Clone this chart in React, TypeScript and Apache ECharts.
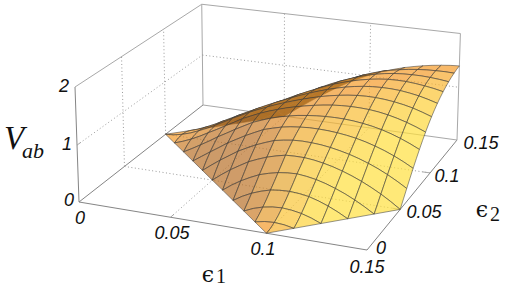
import React, { useEffect, useRef } from "react";
import * as echarts from "echarts";

const e1Ticks = [0, 0.05, 0.1, 0.15];
const e2Ticks = [0, 0.05, 0.1, 0.15];
const zTicks = [0, 1, 2];
const e1Labels = ["0", "0.05", "0.1", "0.15"];
const e2Labels = ["0", "0.05", "0.1", "0.15"];
const zLabels = ["0", "1", "2"];
const gridStep = 0.01;

const _ = null;
// V_ab on the 0.01 grid: one row per e1 (0 .. 0.15), one column per e2 (0 .. 0.15)
const row00 = [_, _, _, _, _, _, _, _, _, _, 0, _, _, _, _, _];
const row01 = [_, _, _, _, _, _, _, _, _, 0, 0.046, 0, _, _, _, _];
const row02 = [_, _, _, _, _, _, _, _, 0, 0.122, 0.162, 0.118, 0, _, _, _];
const row03 = [_, _, _, _, _, _, _, 0, 0.18, 0.288, 0.316, 0.277, 0.165, 0, _, _];
const row04 = [_, _, _, _, _, _, 0, 0.218, 0.378, 0.465, 0.493, 0.444, 0.34, 0.192, 0, _];
const row05 = [_, _, _, _, _, 0, 0.238, 0.432, 0.564, 0.647, 0.653, 0.605, 0.515, 0.385, 0.215, 0];
const row06 = [_, _, _, _, 0, 0.238, 0.45, 0.614, 0.739, 0.792, 0.794, 0.758, 0.685, 0.576, 0.427, 0.235];
const row07 = [_, _, _, 0, 0.218, 0.432, 0.614, 0.77, 0.861, 0.907, 0.919, 0.899, 0.848, 0.758, 0.631, 0.462];
const row08 = [_, _, 0, 0.18, 0.378, 0.564, 0.739, 0.861, 0.945, 1.0, 1.027, 1.028, 0.995, 0.929, 0.82, 0.672];
const row09 = [_, 0, 0.122, 0.288, 0.465, 0.647, 0.792, 0.907, 1.0, 1.07, 1.119, 1.138, 1.127, 1.077, 0.988, 0.861];
const row10 = [0, 0.046, 0.162, 0.316, 0.493, 0.653, 0.794, 0.919, 1.027, 1.119, 1.185, 1.226, 1.231, 1.198, 1.13, 1.02];
const row11 = [_, 0, 0.118, 0.277, 0.444, 0.605, 0.758, 0.899, 1.028, 1.138, 1.226, 1.282, 1.304, 1.291, 1.238, 1.147];
const row12 = [_, _, 0, 0.165, 0.34, 0.515, 0.685, 0.848, 0.995, 1.127, 1.231, 1.304, 1.345, 1.346, 1.31, 1.247];
const row13 = [_, _, _, 0, 0.192, 0.385, 0.576, 0.758, 0.929, 1.077, 1.198, 1.291, 1.346, 1.365, 1.356, 1.32];
const row14 = [_, _, _, _, 0, 0.215, 0.427, 0.631, 0.82, 0.988, 1.13, 1.238, 1.31, 1.356, 1.375, 1.371];
const row15 = [_, _, _, _, _, 0, 0.235, 0.462, 0.672, 0.861, 1.02, 1.147, 1.247, 1.32, 1.371, 1.4];
const rows = [row00, row01, row02, row03, row04, row05, row06, row07, row08, row09, row10, row11, row12, row13, row14, row15];

// V_ab half-way along e1: row i holds e1 = (i + 0.5) * 0.01, column j holds e2 = j * 0.01.
// The surface is symmetric in e1 and e2, so the same table gives the half-way values along e2.
const mid00 = [_, _, _, _, _, _, _, _, _, _, 0.012, _, _, _, _, _];
const mid01 = [_, _, _, _, _, _, _, _, _, 0.055, 0.096, 0.052, _, _, _, _];
const mid02 = [_, _, _, _, _, _, _, _, 0.087, 0.199, 0.234, 0.193, 0.08, _, _, _];
const mid03 = [_, _, _, _, _, _, _, 0.11, 0.275, 0.373, 0.401, 0.359, 0.253, 0.096, _, _];
const mid04 = [_, _, _, _, _, _, 0.122, 0.323, 0.469, 0.554, 0.572, 0.526, 0.429, 0.289, 0.107, _];
const mid05 = [_, _, _, _, _, 0.125, 0.344, 0.523, 0.652, 0.72, 0.726, 0.684, 0.601, 0.481, 0.321, 0.118];
const mid06 = [_, _, _, _, 0.117, 0.337, 0.534, 0.693, 0.802, 0.853, 0.86, 0.829, 0.767, 0.669, 0.53, 0.35];
const mid07 = [_, _, _, 0.1, 0.303, 0.502, 0.679, 0.818, 0.908, 0.958, 0.975, 0.965, 0.924, 0.845, 0.728, 0.569];
const mid08 = [_, _, 0.072, 0.241, 0.427, 0.61, 0.769, 0.89, 0.978, 1.037, 1.075, 1.086, 1.064, 1.006, 0.907, 0.769];
const mid09 = [_, 0.035, 0.151, 0.309, 0.485, 0.654, 0.799, 0.919, 1.017, 1.097, 1.155, 1.185, 1.182, 1.141, 1.062, 0.944];
const mid10 = [_, 0.034, 0.148, 0.304, 0.474, 0.635, 0.782, 0.913, 1.031, 1.132, 1.209, 1.258, 1.271, 1.249, 1.187, 1.087];
const mid11 = [_, _, 0.068, 0.228, 0.398, 0.566, 0.725, 0.877, 1.016, 1.136, 1.233, 1.297, 1.329, 1.323, 1.278, 1.2];
const mid12 = [_, _, _, 0.089, 0.272, 0.455, 0.635, 0.808, 0.967, 1.107, 1.219, 1.302, 1.35, 1.36, 1.337, 1.286];
const mid13 = [_, _, _, _, 0.101, 0.305, 0.507, 0.7, 0.88, 1.037, 1.169, 1.268, 1.332, 1.365, 1.369, 1.349];
const mid14 = [_, _, _, _, _, 0.113, 0.336, 0.552, 0.751, 0.929, 1.079, 1.196, 1.283, 1.341, 1.377, 1.389];
const mids = [mid00, mid01, mid02, mid03, mid04, mid05, mid06, mid07, mid08, mid09, mid10, mid11, mid12, mid13, mid14];

const E_MAX = 0.15;
const Z_MAX = 2;

// perspective camera fitted to the box corners
function project(e1: number, e2: number, z: number) {
  const x = e1 / E_MAX, y = e2 / E_MAX, h = z / Z_MAX;
  const w = 1 - 0.06793 * x + 0.15793 * y - 0.02 * h;
  return {
    sx: (79 + 263.07 * x + 156.06 * y - 5.5 * h) / w,
    sy: (202 + 31.02 * x - 80.42 * y - 116.74 * h) / w,
    w,
  };
}

type V3 = [number, number, number];
const clamp = (v: number) => Math.max(0, Math.min(1, v));
const mix = (a: number[], b: number[], t: number) => a.map((c, i) => c + (b[i] - c) * t);
const ALPHA = 0.7;
const BACK_ALPHA = 0.85;
const UP = [245, 155, 41];
const YELLOW = [255, 224, 62];
const TAN = [184, 112, 41];
const BACK = [25, 12, 0];

function quadColor(pts: V3[]) {
  const xyz = pts.map((p) => [p[0] / E_MAX, p[1] / E_MAX, (p[2] / Z_MAX) * 0.4]);
  const a = xyz[0], b = xyz[1], c = xyz[2], d = xyz[pts.length - 1];
  const u = pts.length === 4 ? [c[0] - a[0], c[1] - a[1], c[2] - a[2]] : [b[0] - a[0], b[1] - a[1], b[2] - a[2]];
  const v = pts.length === 4 ? [d[0] - b[0], d[1] - b[1], d[2] - b[2]] : [c[0] - a[0], c[1] - a[1], c[2] - a[2]];
  let n = [u[1] * v[2] - u[2] * v[1], u[2] * v[0] - u[0] * v[2], u[0] * v[1] - u[1] * v[0]];
  if (n[2] < 0) n = n.map((q) => -q);
  const len = Math.hypot(n[0], n[1], n[2]);
  const p = (n[0] - n[1]) / len / Math.SQRT2;
  const q = -(n[0] + n[1]) / len / Math.SQRT2;
  const py = clamp(p / 0.55);
  let col = mix(UP, YELLOW, py);
  col = mix(col, TAN, clamp((q - 0.18) / 0.4) * (1 - py * 0.8));
  return col;
}

const rowVal = (i: number, j: number) => (i >= 0 && i < rows.length ? rows[i][j] ?? null : null);
const midAlongE1 = (i: number, j: number) => (mids[i] ? mids[i][j] ?? null : null);
const midAlongE2 = (i: number, j: number) => (mids[j] ? mids[j][i] ?? null : null);

function buildQuads() {
  const out: { pts: V3[]; depth: number; fill: string }[] = [];
  for (let i = 0; i < rows.length - 1; i++) {
    for (let j = 0; j < rows[i].length - 1; j++) {
      const s = gridStep;
      const ring: [number, number, number | null, boolean][] = [
        [i, j, rowVal(i, j), true],
        [i + 0.5, j, midAlongE1(i, j), false],
        [i + 1, j, rowVal(i + 1, j), true],
        [i + 1, j + 0.5, midAlongE2(i + 1, j), false],
        [i + 1, j + 1, rowVal(i + 1, j + 1), true],
        [i + 0.5, j + 1, midAlongE1(i, j + 1), false],
        [i, j + 1, rowVal(i, j + 1), true],
        [i, j + 0.5, midAlongE2(i, j), false],
      ];
      const kept = ring.filter((r) => r[2] !== null);
      const corners = kept.filter((r) => r[3]).map((r) => [r[0] * s, r[1] * s, r[2] as number] as V3);
      if (corners.length < 3) continue;
      const pts = kept.map((r) => [r[0] * s, r[1] * s, r[2] as number] as V3);
      const sp = pts.map((p) => project(p[0], p[1], p[2]));
      let area = 0;
      sp.forEach((a, k) => {
        const t = sp[(k + 1) % sp.length];
        area += a.sx * t.sy - t.sx * a.sy;
      });
      const depth = sp.reduce((acc, a) => acc + a.w, 0) / sp.length;
      const col = area < 0 ? quadColor(corners) : BACK;
      const alpha = area < 0 ? ALPHA : BACK_ALPHA;
      out.push({
        pts,
        depth,
        fill: `rgba(${col.map((c) => Math.round(c)).join(",")},${alpha})`,
      });
    }
  }
  return out.sort((p, q) => q.depth - p.depth);
}

type Seg = { a: V3; b: V3; kind: "solid" | "dot" | "front" };
function buildFrame(): Seg[] {
  const m = E_MAX, t = Z_MAX;
  const s: Seg[] = [];
  const add = (a: V3, b: V3, kind: Seg["kind"]) => s.push({ a, b, kind });
  add([0, 0, 0], [m, 0, 0], "front");
  add([m, 0, 0], [m, m, 0], "front");
  add([0, 0, 0], [0, m, 0], "front");
  add([0, m, 0], [m, m, 0], "solid");
  add([0, 0, 0], [0, 0, t], "front");
  add([0, m, 0], [0, m, t], "solid");
  add([m, m, 0], [m, m, t], "solid");
  add([0, 0, t], [0, m, t], "solid");
  add([0, m, t], [m, m, t], "solid");
  e1Ticks.slice(1, -1).forEach((v) => {
    add([v, 0, 0], [v, m, 0], "dot");
    add([v, m, 0], [v, m, t], "dot");
  });
  e2Ticks.slice(1, -1).forEach((v) => {
    add([0, v, 0], [m, v, 0], "dot");
    add([0, v, 0], [0, v, t], "dot");
  });
  zTicks.slice(1, -1).forEach((v) => {
    add([0, 0, v], [0, m, v], "dot");
    add([0, m, v], [m, m, v], "dot");
  });
  e1Ticks.slice(1, -1).forEach((v) => add([v, 0, 0], [v, 0.004, 0], "solid"));
  e2Ticks.slice(1, -1).forEach((v) => add([m, v, 0], [m - 0.004, v, 0], "solid"));
  zTicks.slice(1, -1).forEach((v) => add([0, 0, v], [0, 0.004, v], "solid"));
  return s;
}

const labelFont = "italic 18px 'Liberation Sans', sans-serif";
function tickTexts() {
  const e1Pos = [[80, 218], [172, 233], [263, 249], [367, 267]];
  const e2Pos = [[381, 248], [424, 212], [447, 176], [481, 143]];
  const zPos = [[69, 200], [67, 144], [64, 86]];
  const el: any[] = [];
  const push = (text: string, x: number, y: number, font = labelFont) =>
    el.push({
      type: "text",
      x,
      y,
      silent: true,
      style: { text, font, fill: "#111", align: "center", verticalAlign: "middle" },
    });
  e1Labels.forEach((t, i) => push(t, e1Pos[i][0], e1Pos[i][1]));
  e2Labels.forEach((t, i) => push(t, e2Pos[i][0], e2Pos[i][1]));
  zLabels.forEach((t, i) => push(t, zPos[i][0], zPos[i][1]));
  const serif = "'Liberation Serif', 'DejaVu Serif', serif";
  push("V", 14, 138, `italic 33px ${serif}`);
  push("ab", 33, 150, `italic 22px ${serif}`);
  push("\u03f5", 208, 274, `22px 'DejaVu Serif', serif`);
  push("1", 221, 276, `20px ${serif}`);
  push("\u03f5", 482, 209, `22px 'DejaVu Serif', serif`);
  push("2", 495, 214, `20px ${serif}`);
  return el;
}

export default function App() {
  const ref = useRef<HTMLDivElement>(null);
  useEffect(() => {
    const chart = echarts.init(ref.current!, undefined, { renderer: "svg" });
    const quads = buildQuads();
    const frame = buildFrame();
    chart.setOption({
      animation: false,
      backgroundColor: "#fff",
      grid: { left: 0, right: 0, top: 0, bottom: 0 },
      xAxis: { type: "value", min: 0, max: 509, show: false },
      yAxis: { type: "value", min: 0, max: 287, inverse: true, show: false },
      graphic: tickTexts(),
      series: [
        {
          type: "custom",
          clip: false,
          silent: true,
          data: frame.map((_s, k) => [k]),
          renderItem: (_p: any, api: any) => {
            const s = frame[api.value(0)];
            const pa = project(s.a[0], s.a[1], s.a[2]);
            const pb = project(s.b[0], s.b[1], s.b[2]);
            const c1 = api.coord([pa.sx, pa.sy]);
            const c2 = api.coord([pb.sx, pb.sy]);
            return {
              type: "line",
              shape: { x1: c1[0], y1: c1[1], x2: c2[0], y2: c2[1] },
              style: {
                stroke: s.kind === "dot" ? "#9a9a9a" : s.kind === "front" ? "#858585" : "#a8a8a8",
                lineWidth: 1,
                lineDash: s.kind === "dot" ? [1, 2.5] : undefined,
                fill: "none",
              },
            };
          },
        },
        {
          type: "custom",
          clip: false,
          silent: true,
          data: quads.map((_q, k) => [k]),
          renderItem: (_p: any, api: any) => {
            const q = quads[api.value(0)];
            const points = q.pts.map((p) => {
              const s = project(p[0], p[1], p[2]);
              return api.coord([s.sx, s.sy]);
            });
            return {
              type: "polygon",
              shape: { points },
              style: { fill: q.fill, stroke: "rgba(60,60,60,0.6)", lineWidth: 0.9 },
            };
          },
        },
      ],
    });
    return () => chart.dispose();
  }, []);
  return (
    <div
      ref={ref}
      style={{ position: "absolute", left: 0, top: 0, width: 509, height: 287 }}
    />
  );
}
